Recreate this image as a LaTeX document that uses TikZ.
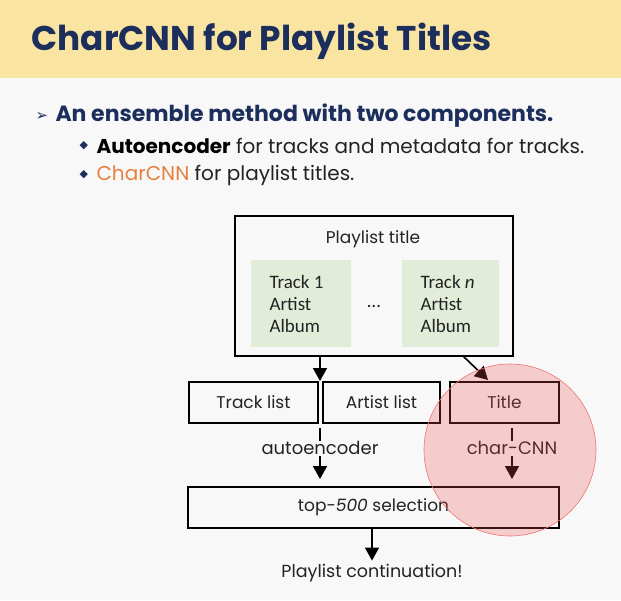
\documentclass[tikz,border=0pt]{standalone}
\usepackage{fontspec}
\setmainfont{Poppins}
\newfontfamily\calfont{Carlito}
\newfontfamily\symfont{DejaVu Sans}
\usetikzlibrary{arrows.meta}
\definecolor{hdr}{RGB}{250,228,162}
\definecolor{navy}{RGB}{28,46,92}
\definecolor{bg}{RGB}{248,248,248}
\definecolor{grn}{RGB}{226,237,217}
\definecolor{org}{RGB}{229,128,63}
\definecolor{txt}{RGB}{35,35,35}
\definecolor{cred}{RGB}{235,80,80}
\tikzset{
  box/.style={draw=black,line width=2.8pt,minimum height=41pt,inner sep=0pt,font=\fontsize{17}{20}\selectfont,text=txt},
  gbox/.style={fill=grn,inner sep=0pt,minimum height=87pt},
  arr/.style={line width=1.6pt,-{Triangle[width=14pt,length=13pt]}},
  lab/.style={font=\fontsize{18}{20}\selectfont,text=txt,fill=bg,inner sep=1pt}
}
\begin{document}
\begin{tikzpicture}[x=1pt,y=-1pt]
\useasboundingbox (0,0) rectangle (621,600);
\fill[bg] (0,0) rectangle (621,600);
\fill[hdr] (0,0) rectangle (621,78);
\node[anchor=west,text=navy,font=\fontsize{34.3}{40}\selectfont\bfseries] (title) at (28,41) {CharCNN for Playlist Titles};
\node[anchor=west,text=navy,font=\symfont\fontsize{15}{18}\selectfont] (b0) at (32,116) {➢};
\node[anchor=west,text=navy,font=\fontsize{22}{26}\selectfont\bfseries] (l1) at (52,116) {An ensemble method with two components.};
\node[anchor=west,text=navy,font=\symfont\fontsize{11}{12}\selectfont] (b1) at (76,146) {◆};
\node[anchor=west,text=txt,font=\fontsize{20}{22}\selectfont] (l2) at (93,146) {\textbf{\color{black}Autoencoder} for tracks and metadata for tracks.};
\node[anchor=west,text=navy,font=\symfont\fontsize{11}{12}\selectfont] (b2) at (76,175) {◆};
\node[anchor=west,text=txt,font=\fontsize{20}{22}\selectfont] (l3) at (93,175) {{\color{org}CharCNN} for playlist titles.};
% diagram
\node[draw=black,line width=2.2pt,minimum width=278pt,minimum height=140pt,inner sep=0pt] (outer) at (374,286) {};
\node[font=\fontsize{17}{20}\selectfont,text=txt] (pt) at (373,239) {Playlist title};
\node[gbox,minimum width=100pt] (g1) at (301,303.5) {};
\node[gbox,minimum width=97pt] (g2) at (450.5,303.5) {};
\node[anchor=west,align=left,font=\calfont\fontsize{19}{22}\selectfont,text=txt] (t1) at (266,304) {Track 1\\Artist\\Album};
\node[anchor=west,align=left,font=\calfont\fontsize{19}{22}\selectfont,text=txt] (t2) at (417,304) {Track \textit{n}\\Artist\\Album};
\node[font=\calfont\fontsize{19}{20}\selectfont,text=txt] (dots) at (374,306) {\ldots};
\node[box,minimum width=129pt] (tl) at (253.5,402.5) {Track list};
\node[box,minimum width=117pt] (al) at (381.5,402.5) {Artist list};
\node[box,minimum width=109pt] (ti) at (504.5,402.5) {Title};
\node[box,minimum width=371pt] (top) at (373.5,507.5) {\raisebox{-2pt}{top-\textit{500} selection}};
\node[font=\fontsize{17.5}{20}\selectfont,text=txt] (cont) at (372,573) {Playlist continuation!};
\coordinate (o1) at (320,356);
\coordinate (o1e) at (320,381);
\coordinate (o2) at (463,356);
\coordinate (o2e) at (488,380);
\draw[arr] (o1) -- (o1e);
\draw[arr] (o2) -- (o2e);
\coordinate (a1) at (320,428);
\coordinate (a1e) at (320,479);
\coordinate (c1) at (512,428);
\coordinate (c1e) at (512,479);
\draw[arr] (a1) -- (a1e) node[lab,pos=0.4] (ae) {autoencoder};
\draw[arr] (c1) -- (c1e) node[lab,pos=0.4] (cc) {char-CNN};
\draw[arr] (top.south -| cont.north) -- (cont.north);
\node[circle,minimum size=172pt,inner sep=0pt,draw=cred!80,line width=0.6pt,fill=cred,fill opacity=0.26] (circ) at (510,450) {};
\end{tikzpicture}
\end{document}
